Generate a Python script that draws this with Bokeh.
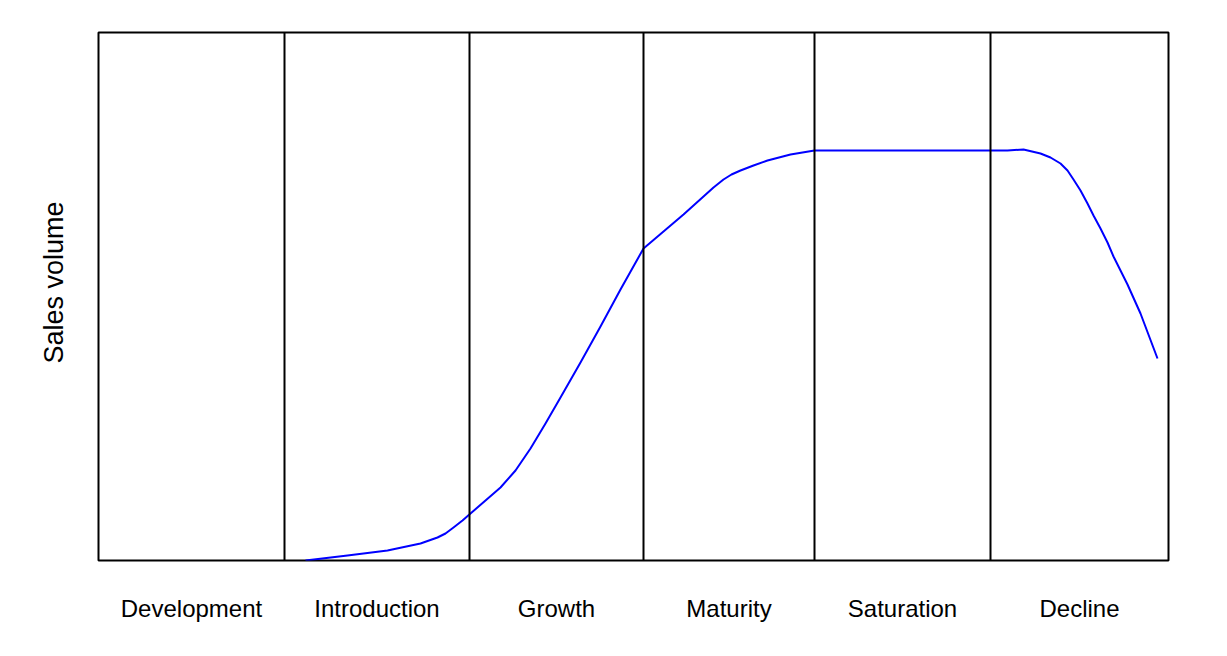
import numpy as np
from bokeh.plotting import figure
from bokeh.models import Range1d, FixedTicker, Span, Title
from bokeh.embed import file_html
from bokeh.resources import INLINE

# Phases and their boundaries (in time units along the x axis)
phases = ["Development", "Introduction", "Growth", "Maturity", "Saturation", "Decline"]
boundaries = [0, 186, 371, 545, 716, 892, 1070]

# Sales curve (time, sales volume)
curve_t = [207, 249, 289, 322, 339, 347, 355, 364, 372, 387, 402, 417, 432, 447, 462,
           482, 502, 522, 545, 565, 585, 605, 615, 625, 633, 642, 655, 669, 692, 716,
           892, 909, 925, 942, 952, 962, 969, 975, 982, 989, 995, 1002, 1009, 1015,
           1022, 1029, 1042, 1059]
curve_s = [0, 5, 10, 17, 23, 27, 33, 40, 47, 60, 73, 90, 112, 137, 163,
           198, 234, 271, 312, 329, 346, 364, 373, 381, 386, 390, 395, 400, 406, 410,
           410, 410, 411, 407, 403, 397, 390, 381, 370, 357, 345, 332, 318, 304,
           290, 276, 247, 202]

centers = [(boundaries[i] + boundaries[i + 1]) / 2 for i in range(len(phases))]

p = figure(width=1227, height=656, output_backend="svg", toolbar_location=None,
           x_range=Range1d(boundaries[0], boundaries[-1]), y_range=Range1d(0, 528),
           min_border_left=98, min_border_right=59, min_border_top=32, min_border_bottom=96)

p.background_fill_color = "white"
p.border_fill_color = "white"
p.outline_line_color = "black"
p.outline_line_width = 2
p.xgrid.visible = False
p.ygrid.visible = False

for b in boundaries[1:-1]:
    p.add_layout(Span(location=b, dimension="height", line_color="black", line_width=2))

p.line(curve_t, curve_s, line_color="blue", line_width=2, line_join="round")

xa = p.xaxis[0]
xa.ticker = FixedTicker(ticks=centers)
xa.major_label_overrides = {c: name for c, name in zip(centers, phases)}
xa.major_tick_line_color = None
xa.minor_tick_line_color = None
xa.axis_line_color = None
xa.major_label_text_font = "Liberation Sans"
xa.major_label_text_font_size = "24px"
xa.major_label_text_color = "black"
xa.major_label_standoff = 28

p.yaxis.visible = False

ytitle = Title(text="Sales volume", align="left", offset=197, standoff=60,
               text_font="Liberation Sans", text_font_size="27px",
               text_font_style="normal", text_color="black")
p.add_layout(ytitle, "left")

open("out.html", "w").write(file_html(p, INLINE))
